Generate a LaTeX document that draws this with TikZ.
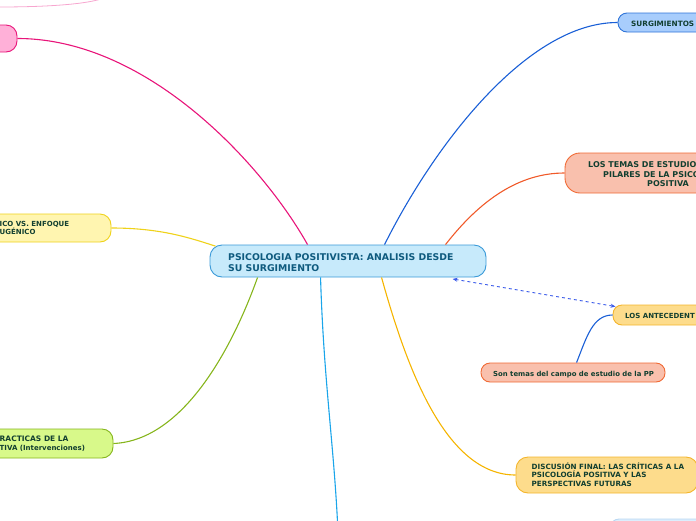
\documentclass[tikz,border=0pt]{standalone}
\usepackage{fontspec}
\setmainfont{DejaVu Sans}
\usetikzlibrary{calc,arrows.meta}
\definecolor{txt}{HTML}{123F30}
\definecolor{ctxt}{HTML}{0E5A7E}
\definecolor{cfill}{HTML}{C7EAFB}
\definecolor{cdraw}{HTML}{3A9AD8}
\definecolor{pkfill}{HTML}{FFB0D8}
\definecolor{pkdraw}{HTML}{E8157A}
\definecolor{pklight}{HTML}{F7A6CF}
\definecolor{ylfill}{HTML}{FFF5B0}
\definecolor{yldraw}{HTML}{EFD21A}
\definecolor{grfill}{HTML}{D8F98A}
\definecolor{grdraw}{HTML}{86B51C}
\definecolor{sgfill}{HTML}{A8CDFC}
\definecolor{sgdraw}{HTML}{2F74D8}
\definecolor{bluec}{HTML}{1A5FD6}
\definecolor{tmfill}{HTML}{F9C0AD}
\definecolor{tmdraw}{HTML}{F06A35}
\definecolor{tmc}{HTML}{F05A2A}
\definecolor{anfill}{HTML}{FDDC8C}
\definecolor{andraw}{HTML}{F4B52C}
\definecolor{orc}{HTML}{F5B400}
\definecolor{cyc}{HTML}{1AA5EA}
\definecolor{dashc}{HTML}{3B5BEA}
\definecolor{brfill}{HTML}{DCEEFD}
\definecolor{brdraw}{HTML}{B9D7F2}
\begin{document}
\begin{tikzpicture}[x=1pt,y=-1pt,
  box/.style={draw, line width=0.9pt, rounded corners=9pt, inner sep=0pt},
  lbl/.style={anchor=base west, inner sep=0pt, text=txt, font=\bfseries\fontsize{7}{9}\selectfont},
  conn/.style={line width=1.1pt}]
\useasboundingbox (0,0) rectangle (696,520);
\clip (0,0) rectangle (696,520);

% nodes (shapes)
\node[box, fill=cfill, draw=cdraw, rounded corners=12pt, minimum width=276pt, minimum height=32pt] (c) at (348,261) {};
\node[box, fill=pkfill, draw=pkdraw, rounded corners=11pt, minimum width=37pt, minimum height=27pt] (pk) at (-1.5,38.5) {};
\node[box, fill=ylfill, draw=yldraw, rounded corners=11pt, minimum width=191pt, minimum height=28pt] (yl) at (15.5,228) {};
\node[box, fill=grfill, draw=grdraw, rounded corners=11pt, minimum width=193pt, minimum height=29pt] (gr) at (16.5,443.5) {};
\node[box, fill=sgfill, draw=sgdraw, minimum width=122pt, minimum height=19pt] (sg) at (679,22.5) {};
\node[box, fill=tmfill, draw=tmdraw, rounded corners=15pt, minimum width=195pt, minimum height=40pt] (tm) at (662.5,173) {};
\node[box, fill=anfill, draw=andraw, minimum width=147pt, minimum height=20pt] (an) at (686.5,315) {};
\node[box, fill=tmfill, draw=tmdraw, minimum width=184pt, minimum height=19pt] (st) at (573,372.5) {};
\node[box, fill=anfill, draw=andraw, rounded corners=12pt, minimum width=182pt, minimum height=36pt] (ds) at (607,475) {};
\node[box, fill=brfill, draw=brdraw, minimum width=100pt, minimum height=32pt] (br) at (660,535) {};

% connectors
\coordinate (p1) at (-2,7);
\coordinate (p2) at (104,-2);
\draw[line width=0.8pt, pklight] (p1) .. controls (50,7) and (88,4) .. (p2);
\draw[conn, pkdraw] (pk.east) .. controls +(130,0) and +(-45,-80) .. ([xshift=98pt]c.north west);
\draw[conn, yldraw] (yl.east) .. controls +(50,0) and +(-25,-8) .. ([xshift=6pt,yshift=-1.6pt]c.north west);
\draw[conn, grdraw] (gr.east) .. controls +(70,-3) and +(-25,70) .. ([xshift=48pt]c.south west);
\coordinate (cy) at (337.5,522);
\draw[conn, cyc] ([xshift=111pt]c.south west) .. controls +(3,100) and +(-4,-80) .. (cy);
\draw[conn, orc] ([xshift=172pt]c.south west) .. controls +(25,90) and +(-70,0) .. (ds.west);
\draw[conn, bluec] ([xshift=175pt]c.north west) .. controls +(50,-100) and +(-90,0) .. (sg.west);
\draw[conn, tmc] ([xshift=236pt]c.north west) .. controls +(35,-45) and +(-45,0) .. (tm.west);
\draw[line width=0.9pt, dashc, dashed, {Stealth[length=5pt,width=4pt]}-{Stealth[length=5pt,width=4pt]}] ([xshift=243pt,yshift=-1.5pt]c.south west) -- ([xshift=3pt,yshift=-2pt]an.north west);
\draw[conn, bluec] (an.west) .. controls +(-20,0) and +(10,-25) .. ([xshift=96pt]st.north west);

% labels
\node[lbl, text=ctxt, font=\bfseries\fontsize{9.3}{11}\selectfont] (c1) at (228,260) {PSICOLOGIA POSITIVISTA: ANALISIS DESDE};
\node[lbl, text=ctxt, font=\bfseries\fontsize{9.3}{11}\selectfont] (c2) at (228,271) {SU SURGIMIENTO};
\node[lbl, font=\bfseries\fontsize{7.3}{9}\selectfont] (sg1) at (631,26.5) {SURGIMIENTOS};
\node[lbl, font=\bfseries\fontsize{8}{9.5}\selectfont] (tm1) at (588,167.5) {LOS TEMAS DE ESTUDIO};
\node[lbl, font=\bfseries\fontsize{8}{9.5}\selectfont] (tm2) at (603,177) {PILARES DE LA PSICO};
\node[lbl, font=\bfseries\fontsize{8}{9.5}\selectfont] (tm3) at (647,186.5) {POSITIVA};
\node[lbl] (an1) at (625,318.5) {LOS ANTECEDENT};
\node[lbl, font=\bfseries\fontsize{6.9}{9}\selectfont] (st1) at (493,376) {Son temas del campo de estudio de la PP};
\node[lbl, font=\bfseries\fontsize{7.2}{8.4}\selectfont] (ds1) at (531.5,469) {DISCUSIÓN FINAL: LAS CRÍTICAS A LA};
\node[lbl, font=\bfseries\fontsize{7.2}{8.4}\selectfont] (ds2) at (531.5,477.5) {PSICOLOGÍA POSITIVA Y LAS};
\node[lbl, font=\bfseries\fontsize{7.2}{8.4}\selectfont] (ds3) at (531.5,486) {PERSPECTIVAS FUTURAS};
\node[lbl] (yl1) at (-0.5,226.7) {ICO VS. ENFOQUE};
\node[lbl] (yl2) at (-0.5,234.5) {UGÉNICO};
\node[lbl, font=\bfseries\fontsize{7.5}{9}\selectfont] (gr1) at (-0.5,441.7) {RACTICAS DE LA};
\node[lbl, font=\bfseries\fontsize{7}{9}\selectfont] (gr2) at (-0.5,450.7) {TIVA (Intervenciones)};
\end{tikzpicture}
\end{document}
